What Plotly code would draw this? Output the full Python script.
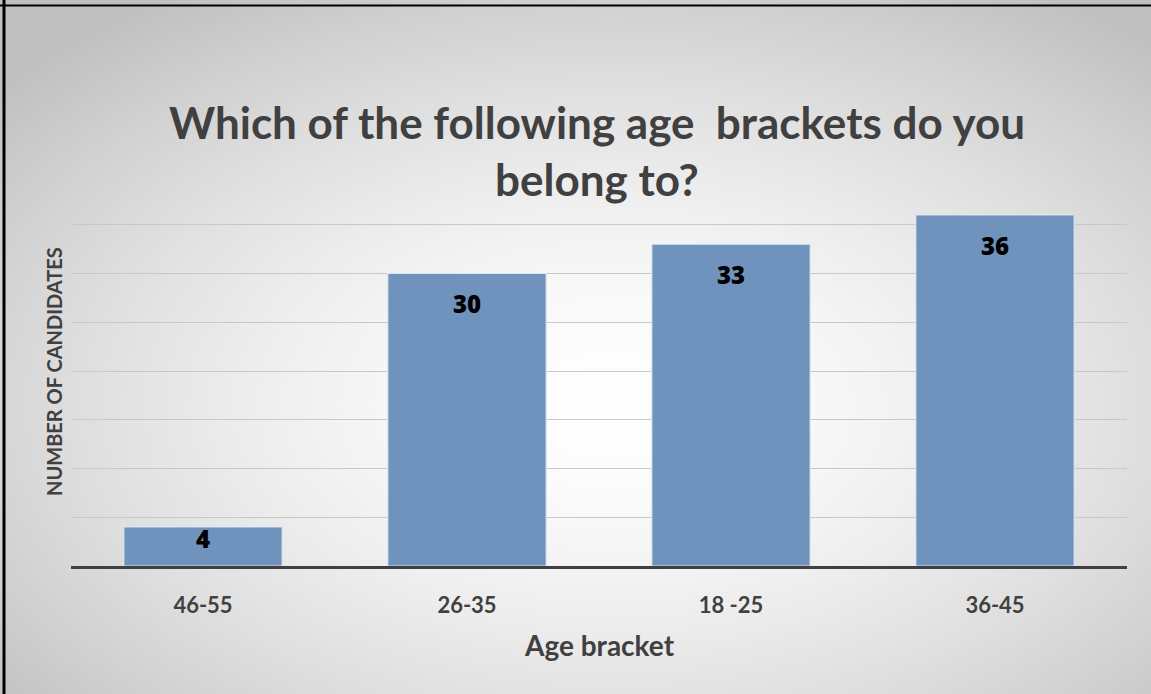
import base64
import struct
import zlib

import numpy as np
import plotly.graph_objects as go

# ---- data ----
age_brackets = ["46-55", "26-35", "18 -25", "36-45"]
candidates = [4, 30, 33, 36]

chart_title = "Which of the following age  brackets do you<br>belong to?"
x_title = "Age bracket"
y_title = "NUMBER OF CANDIDATES"

W, H = 1151, 694
FONT = "Lato"
LABEL_FONT = "Open Sans"
DARK = "#404040"


def radial_background(w, h, edge=192):
    """Small grayscale PNG with a white centre fading to gray corners."""
    yy, xx = np.mgrid[0:h, 0:w].astype(float)
    cx, cy = w * 0.53, h * 0.58
    r = np.sqrt(((xx - cx) / (w / 2)) ** 2 + ((yy - cy) / (h / 2)) ** 2) / np.sqrt(2)
    r = np.clip(r, 0, 1)
    g = (255 - (255 - edge) * r ** 1.6).astype(np.uint8)
    raw = b"".join(b"\x00" + g[i].tobytes() for i in range(h))

    def chunk(tag, data):
        c = struct.pack(">I", len(data)) + tag + data
        return c + struct.pack(">I", zlib.crc32(tag + data) & 0xFFFFFFFF)

    png = b"\x89PNG\r\n\x1a\n"
    png += chunk(b"IHDR", struct.pack(">IIBBBBB", w, h, 8, 0, 0, 0, 0))
    png += chunk(b"IDAT", zlib.compress(raw, 9))
    png += chunk(b"IEND", b"")
    return "data:image/png;base64," + base64.b64encode(png).decode()


# plot-area placement in pixels
px_left, px_right = 71, 1127
px_top, px_bottom = 176, 566
y_max = 40
px_per_unit = (px_bottom - px_top) / y_max

fig = go.Figure(
    go.Bar(
        x=age_brackets,
        y=candidates,
        width=0.6,
        marker=dict(color="rgb(112,147,190)",
                    line=dict(color="rgba(225,235,245,0.9)", width=1.2)),
        hoverinfo="x+y",
    )
)

# value labels just inside the top of each bar
for cat, val in zip(age_brackets, candidates):
    bar_px = val * px_per_unit
    shift = -30 if bar_px > 80 else -11
    fig.add_annotation(
        x=cat, y=val, text=str(val), showarrow=False, yshift=shift,
        font=dict(family=LABEL_FONT, size=24, color="black", weight=800),
    )

fig.add_annotation(
    xref="paper", yref="paper", x=0.519, y=1 - 150 / H, yanchor="middle",
    text=chart_title, showarrow=False, align="center",
    font=dict(family=FONT, size=44, color=DARK, weight="bold"),
)
fig.add_annotation(
    xref="paper", yref="paper", x=(px_left + px_right) / 2 / W, y=1 - 645 / H,
    yanchor="middle", text=x_title, showarrow=False,
    font=dict(family=FONT, size=28, color=DARK, weight="bold"),
)
fig.add_annotation(
    xref="paper", yref="paper", x=54 / W, y=1 - 372 / H, textangle=-90,
    xanchor="center", yanchor="middle", text=y_title, showarrow=False,
    font=dict(family=FONT, size=20, color=DARK, weight="bold"),
)

# frame edges along the top and left
fig.add_shape(type="line", xref="paper", yref="paper",
              x0=0, x1=1, y0=1 - 5.5 / H, y1=1 - 5.5 / H,
              line=dict(color="black", width=2))
fig.add_shape(type="line", xref="paper", yref="paper",
              x0=4 / W, x1=4 / W, y0=0, y1=1,
              line=dict(color="black", width=3))

fig.update_layout(
    width=W, height=H,
    margin=dict(l=0, r=0, t=0, b=0),
    paper_bgcolor="rgba(0,0,0,0)",
    plot_bgcolor="rgba(0,0,0,0)",
    showlegend=False,
    bargap=0.4,
    images=[dict(source=radial_background(W // 4, H // 4), xref="paper", yref="paper",
                 x=0, y=1, sizex=1, sizey=1, sizing="stretch",
                 xanchor="left", yanchor="top", layer="below")],
    xaxis=dict(
        domain=[px_left / W, px_right / W],
        showline=True, linecolor=DARK, linewidth=3,
        showgrid=False, ticks="",
        tickfont=dict(family=FONT, size=22, color=DARK, weight="bold"),
        ticklabelstandoff=18,
    ),
    yaxis=dict(
        domain=[1 - px_bottom / H, 1 - px_top / H],
        range=[0, y_max], dtick=5,
        showgrid=True, gridcolor="#c8c8c8", gridwidth=1,
        showticklabels=False, zeroline=False, showline=False, ticks="",
    ),
)

fig.write_html("out.html")
